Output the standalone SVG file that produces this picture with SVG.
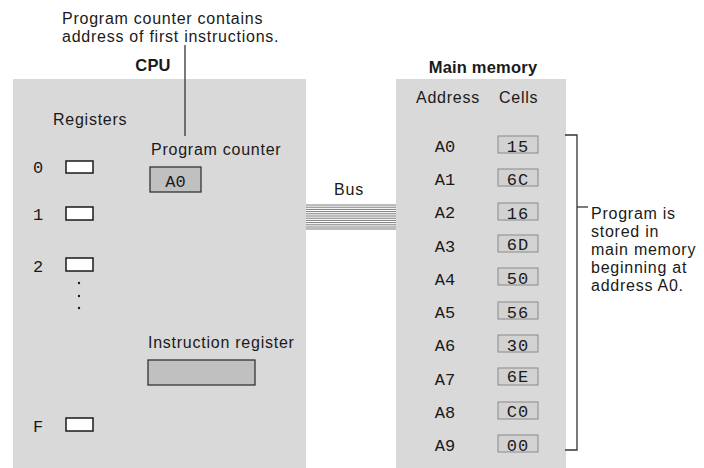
<svg xmlns="http://www.w3.org/2000/svg" width="704" height="468" viewBox="0 0 704 468">
<style>
.sans{font-family:"Liberation Sans",Arial,sans-serif;fill:#1a1a1a;font-size:16px;letter-spacing:0.75px}
.bold{font-family:"Liberation Sans",Arial,sans-serif;fill:#1a1a1a;font-size:16.5px;font-weight:bold;letter-spacing:0.2px}
.mono{font-family:"Liberation Mono","Courier New",monospace;fill:#1a1a1a;font-size:17px}
.panel{fill:#d9d9d9}
.reg{fill:#ffffff;stroke:#1a1a1a;stroke-width:1.5}
.dark{fill:#c0c0c0;stroke:#333;stroke-width:1.3}
.cell{fill:#d2d2d2;stroke:#8a8a8a;stroke-width:1}
.line{stroke:#333;stroke-width:1.3;fill:none}
.bus{stroke:#7a7a7a;stroke-width:1}
</style>
<rect width="704" height="468" fill="#ffffff"/>

<g id="callout">
<text class="sans" x="62" y="23.5">Program counter contains<tspan x="62" dy="18">address of first instructions.</tspan></text>
</g>

<g id="cpu">
<rect class="panel" x="13" y="79" width="293" height="389"/>
<text class="bold" x="153" y="71" text-anchor="middle">CPU</text>
<text class="sans" x="53" y="125">Registers</text>
<text class="mono" x="38" y="173" text-anchor="middle">0</text>
<rect class="reg" x="66" y="161" width="27" height="12"/>
<text class="mono" x="38" y="220" text-anchor="middle">1</text>
<rect class="reg" x="66" y="207" width="27" height="13"/>
<text class="mono" x="38" y="272" text-anchor="middle">2</text>
<rect class="reg" x="66" y="258" width="27" height="13"/>
<circle cx="79" cy="283" r="1.2" fill="#1a1a1a"/>
<circle cx="79" cy="296" r="1.2" fill="#1a1a1a"/>
<circle cx="79" cy="308" r="1.2" fill="#1a1a1a"/>
<text class="mono" x="38" y="432" text-anchor="middle">F</text>
<rect class="reg" x="66" y="418" width="27" height="13"/>
</g>

<g id="program-counter">
<text class="sans" x="151" y="155">Program counter</text>
<rect class="dark" x="150" y="167" width="51" height="25"/>
<text class="mono" x="175.5" y="187" text-anchor="middle">A0</text>
</g>

<g id="instruction-register">
<text class="sans" x="148" y="348">Instruction register</text>
<rect class="dark" x="148" y="360" width="107" height="25"/>
</g>

<g id="main-memory">
<rect class="panel" x="396" y="79" width="170" height="389"/>
<text class="bold" x="483" y="73" text-anchor="middle">Main memory</text>
<text class="sans" x="416" y="103">Address</text>
<text class="sans" x="499" y="103">Cells</text>
<g id="row-A0"><text class="mono" x="445" y="152" text-anchor="middle">A0</text><rect class="cell" x="498" y="136" width="40" height="17"/><text class="mono" x="518" y="152" text-anchor="middle" letter-spacing="1">15</text></g>
<g id="row-A1"><text class="mono" x="445" y="185" text-anchor="middle">A1</text><rect class="cell" x="498" y="169" width="40" height="17"/><text class="mono" x="518" y="185" text-anchor="middle" letter-spacing="1">6C</text></g>
<g id="row-A2"><text class="mono" x="445" y="218" text-anchor="middle">A2</text><rect class="cell" x="498" y="203" width="40" height="17"/><text class="mono" x="518" y="219" text-anchor="middle" letter-spacing="1">16</text></g>
<g id="row-A3"><text class="mono" x="445" y="252" text-anchor="middle">A3</text><rect class="cell" x="498" y="235" width="40" height="17"/><text class="mono" x="518" y="250" text-anchor="middle" letter-spacing="1">6D</text></g>
<g id="row-A4"><text class="mono" x="445" y="285" text-anchor="middle">A4</text><rect class="cell" x="498" y="268" width="40" height="17"/><text class="mono" x="518" y="284" text-anchor="middle" letter-spacing="1">50</text></g>
<g id="row-A5"><text class="mono" x="445" y="318" text-anchor="middle">A5</text><rect class="cell" x="498" y="302" width="40" height="17"/><text class="mono" x="518" y="318" text-anchor="middle" letter-spacing="1">56</text></g>
<g id="row-A6"><text class="mono" x="445" y="351" text-anchor="middle">A6</text><rect class="cell" x="498" y="335" width="40" height="17"/><text class="mono" x="518" y="351" text-anchor="middle" letter-spacing="1">30</text></g>
<g id="row-A7"><text class="mono" x="445" y="385" text-anchor="middle">A7</text><rect class="cell" x="498" y="368" width="40" height="17"/><text class="mono" x="518" y="382" text-anchor="middle" letter-spacing="1">6E</text></g>
<g id="row-A8"><text class="mono" x="445" y="418" text-anchor="middle">A8</text><rect class="cell" x="498" y="402" width="40" height="17"/><text class="mono" x="518" y="417" text-anchor="middle" letter-spacing="1">C0</text></g>
<g id="row-A9"><text class="mono" x="445" y="451" text-anchor="middle">A9</text><rect class="cell" x="498" y="435" width="40" height="17"/><text class="mono" x="518" y="451" text-anchor="middle" letter-spacing="1">00</text></g>
</g>

<g id="program-note">
<text class="sans" x="591" y="219">Program is<tspan x="591" dy="18">stored in</tspan><tspan x="591" dy="18">main memory</tspan><tspan x="591" dy="18">beginning at</tspan><tspan x="591" dy="18">address A0.</tspan></text>
</g>

<g id="connectors">
<line class="line" x1="185" y1="45" x2="185" y2="136"/>
<polyline class="line" points="565,135 577,135 577,450 565,450"/>
<line class="line" x1="577" y1="207" x2="588" y2="207"/>
<g id="bus">
<text class="sans" x="349" y="195" text-anchor="middle">Bus</text>
<line class="bus" x1="306" y1="205" x2="396" y2="205"/>
<line class="bus" x1="306" y1="207.2" x2="396" y2="207.2"/>
<line class="bus" x1="306" y1="209.4" x2="396" y2="209.4"/>
<line class="bus" x1="306" y1="211.6" x2="396" y2="211.6"/>
<line class="bus" x1="306" y1="213.8" x2="396" y2="213.8"/>
<line class="bus" x1="306" y1="216" x2="396" y2="216"/>
<line class="bus" x1="306" y1="218.2" x2="396" y2="218.2"/>
<line class="bus" x1="306" y1="220.4" x2="396" y2="220.4"/>
<line class="bus" x1="306" y1="222.6" x2="396" y2="222.6"/>
<line class="bus" x1="306" y1="224.8" x2="396" y2="224.8"/>
<line class="bus" x1="306" y1="227" x2="396" y2="227"/>
<line class="bus" x1="306" y1="229" x2="396" y2="229"/>
</g>
</g>
</svg>
